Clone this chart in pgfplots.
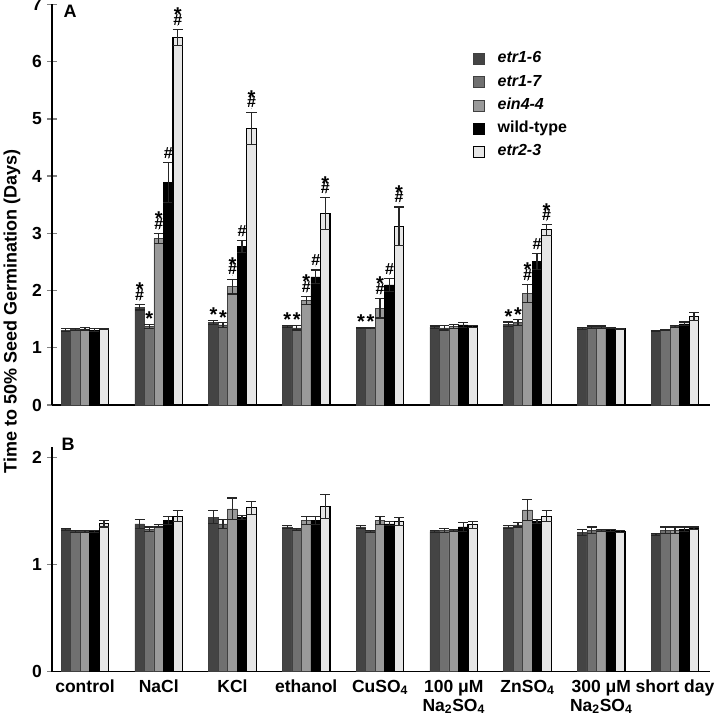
\documentclass[border=0pt]{standalone}
\usepackage{fontspec}
\setmainfont{Liberation Sans}
\usepackage{graphicx}
\usepackage{pgfplots}
\usepackage{pgfplotstable}
\pgfplotsset{compat=1.18}
\definecolor{cA}{HTML}{444444}
\definecolor{cB}{HTML}{707070}
\definecolor{cC}{HTML}{9A9A9A}
\definecolor{cD}{HTML}{000000}
\definecolor{cE}{HTML}{E6E6E6}
\newcommand{\bigstar}{\scalebox{1.25}{*}}
\newcommand{\SH}{\ooalign{\hfil\raisebox{3.5pt}{\bigstar}\hfil\cr\#\cr}}
\newcommand{\ST}{\bigstar}
\newcommand{\HS}{\#}

\pgfplotstableread{
x a ae b be c ce d de e ee
0 1.31 0.02 1.32 0.02 1.33 0.02 1.31 0.02 1.33 0.01
1 1.71 0.05 1.37 0.04 2.91 0.09 3.89 0.35 6.42 0.14
2 1.44 0.04 1.40 0.04 2.07 0.13 2.77 0.11 4.84 0.28
3 1.37 0.02 1.35 0.04 1.83 0.07 2.24 0.12 3.34 0.28
4 1.35 0.01 1.35 0.01 1.69 0.17 2.10 0.11 3.12 0.34
5 1.36 0.02 1.35 0.04 1.37 0.03 1.40 0.04 1.37 0.02
6 1.41 0.04 1.44 0.05 1.95 0.16 2.51 0.14 3.06 0.09
7 1.34 0.02 1.36 0.02 1.36 0.02 1.34 0.01 1.33 0.01
8 1.29 0.01 1.31 0.01 1.37 0.02 1.42 0.03 1.54 0.07
}\dataA

\pgfplotstableread{
x a ae b be c ce d de e ee
0 1.33 0.01 1.31 0.01 1.31 0.01 1.31 0.01 1.38 0.03
1 1.38 0.04 1.33 0.02 1.36 0.01 1.41 0.04 1.45 0.05
2 1.44 0.06 1.38 0.04 1.52 0.10 1.44 0.02 1.53 0.06
3 1.35 0.01 1.33 0.01 1.41 0.04 1.41 0.04 1.54 0.11
4 1.35 0.01 1.31 0.01 1.41 0.04 1.38 0.02 1.40 0.04
5 1.31 0.01 1.32 0.02 1.32 0.01 1.35 0.04 1.37 0.03
6 1.35 0.01 1.37 0.02 1.51 0.10 1.40 0.02 1.45 0.05
7 1.30 0.03 1.32 0.03 1.32 0.01 1.32 0.01 1.31 0.01
8 1.28 0.01 1.32 0.03 1.32 0.03 1.33 0.02 1.34 0.01
}\dataB

\pgfplotsset{
  eb/.style={error bars/.cd, y dir=both, y explicit,
    error bar style={line width=1.1pt, draw=black!85},
    error mark options={rotate=90, mark size=5pt, line width=1.1pt, draw=black!85}},
  bA/.style={bar shift=-0.258, fill=cA, draw=black!75, line width=0.5pt, eb},
  bB/.style={bar shift=-0.129, fill=cB, draw=black!75, line width=0.5pt, eb},
  bC/.style={bar shift=0, fill=cC, draw=black!75, line width=0.5pt, eb},
  bD/.style={bar shift=0.129, fill=cD, draw=black, line width=0.5pt, eb},
  bE/.style={bar shift=0.258, fill=cE, draw=black, line width=1.1pt, eb},
  panel/.style={scale only axis, width=658pt, xmin=-0.447, xmax=8.475,
    ybar, bar width=0.129,
    axis x line*=bottom, axis y line*=left,
    axis line style={line width=1.4pt},
    xtick style={draw=none},
    ytick style={line width=1.3pt},
    major tick length=10pt, tick align=center,
    tick label style={font=\fontsize{17.5}{19}\selectfont\bfseries},
    /pgf/number format/assume math mode=true,
    yticklabel style={inner sep=0pt, xshift=-5pt},
    clip=false},
  ann/.style={only marks, bar shift=0, mark=*, mark size=0.01pt, mark options={draw=none, fill=none},
    nodes near coords, point meta=explicit symbolic,
    nodes near coords style={anchor=south, inner sep=0pt, font=\fontsize{16}{16}\selectfont\bfseries}},
}

\begin{document}
\begin{tikzpicture}
\useasboundingbox (0,0) rectangle (717pt,719pt);

\begin{axis}[panel, at={(52pt,314pt)}, anchor=south west, height=400.5pt,
  ymin=0, ymax=7, ytick={0,1,...,7}, xtick=\empty,
  legend cell align=left,
  legend style={at={(0.635,0.89)}, anchor=north west, draw=none, fill=none,
    font=\fontsize{16}{18}\selectfont\bfseries, row sep=7.3pt,
    nodes={inner sep=0pt, text height=12pt, text depth=4pt},
    column sep=13pt},
  legend image code/.code={\draw[#1, /tikz/.cd, line width=0.6pt] (0pt,-5.5pt) rectangle (11pt,5.5pt);}]
\addplot[bA] table[x=x, y=a, y error=ae]{\dataA};
\addplot[bB] table[x=x, y=b, y error=be]{\dataA};
\addplot[bC] table[x=x, y=c, y error=ce]{\dataA};
\addplot[bD] table[x=x, y=d, y error=de]{\dataA};
\addplot[bE] table[x=x, y=e, y error=ee]{\dataA};
\legend{\textit{etr1-6}, \textit{etr1-7}, \textit{ein4-4}, wild-type, \textit{etr2-3}}
\addplot[ann] coordinates {
 (0.742,1.83) [\SH] (0.871,1.38) [\ST] (1,3.07) [\SH] (1.129,4.31) [\HS] (1.258,6.63) [\SH]
 (1.742,1.45) [\ST] (1.871,1.41) [\ST] (2,2.27) [\SH] (2.129,2.95) [\HS] (2.258,5.19) [\SH]
 (2.742,1.36) [\ST] (2.871,1.36) [\ST] (3,1.97) [\SH] (3.129,2.43) [\HS] (3.258,3.69) [\SH]
 (3.742,1.33) [\ST] (3.871,1.33) [\ST] (4,1.93) [\SH] (4.129,2.28) [\HS] (4.258,3.53) [\SH]
 (5.742,1.42) [\ST] (5.871,1.46) [\ST] (6,2.18) [\SH] (6.129,2.72) [\HS] (6.258,3.22) [\SH]
};
\end{axis}

\begin{axis}[panel, at={(52pt,47.3pt)}, anchor=south west, height=225.1pt,
  ymin=0, ymax=2.1, ytick={0,1,2},
  xtick={0,...,8},
  xticklabels={control, NaCl, KCl, ethanol, CuSO\textsubscript{4},
    {100 μM\\Na\textsubscript{2}SO\textsubscript{4}}, ZnSO\textsubscript{4},
    {300 μM\\Na\textsubscript{2}SO\textsubscript{4}}, short day},
  xticklabel style={align=center, anchor=north, inner sep=0pt, yshift=-3pt}]
\addplot[bA] table[x=x, y=a, y error=ae]{\dataB};
\addplot[bB] table[x=x, y=b, y error=be]{\dataB};
\addplot[bC] table[x=x, y=c, y error=ce]{\dataB};
\addplot[bD] table[x=x, y=d, y error=de]{\dataB};
\addplot[bE] table[x=x, y=e, y error=ee]{\dataB};
\end{axis}

\node[rotate=90, font=\fontsize{18}{20}\selectfont\bfseries] at (12pt,407.5pt) {Time to 50\% Seed Germination (Days)};
\node[font=\fontsize{18}{20}\selectfont\bfseries] at (70pt,707.5pt) {A};
\node[font=\fontsize{18}{20}\selectfont\bfseries] at (68pt,275pt) {B};
\end{tikzpicture}
\end{document}
